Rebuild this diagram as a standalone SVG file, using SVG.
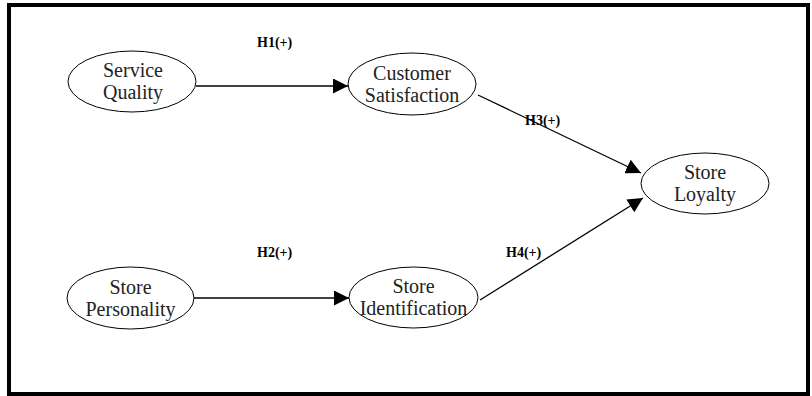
<svg xmlns="http://www.w3.org/2000/svg" width="812" height="396" viewBox="0 0 812 396">
<style>
.node ellipse{fill:#fff;stroke:#000;stroke-width:1}
.node text{font-family:'Liberation Serif','Times New Roman',serif;font-size:20px;fill:#222;text-anchor:middle}
.edge line{stroke:#000;stroke-width:1.3;fill:none}
.lbl{font-family:'Liberation Serif','Times New Roman',serif;font-size:14px;font-weight:bold;fill:#000}
</style>
<defs>
<marker id="ah" viewBox="0 0 10 10" refX="10" refY="5" markerWidth="15" markerHeight="15" markerUnits="userSpaceOnUse" orient="auto">
<path d="M0,0 L10,5 L0,10 Z" fill="#000"/>
</marker>
</defs>
<rect x="0" y="0" width="812" height="396" fill="#fff"/>
<rect x="9" y="5" width="799" height="389" fill="none" stroke="#000" stroke-width="4"/>
<g id="connectors" class="edge">
<line x1="196" y1="86" x2="348" y2="86" marker-end="url(#ah)"/>
<line x1="194" y1="298" x2="349" y2="298" marker-end="url(#ah)"/>
<line x1="478" y1="95" x2="641" y2="173" marker-end="url(#ah)"/>
<line x1="480" y1="300" x2="643" y2="198" marker-end="url(#ah)"/>
</g>
<g id="labels">
<text class="lbl" x="257" y="47">H1(+)</text>
<text class="lbl" x="257" y="257">H2(+)</text>
<text class="lbl" x="525" y="125">H3(+)</text>
<text class="lbl" x="506" y="257">H4(+)</text>
</g>
<g id="service-quality" class="node">
<ellipse cx="132" cy="81.5" rx="64" ry="30.5"/>
<text x="133" y="77">Service</text>
<text x="133" y="99">Quality</text>
</g>
<g id="customer-satisfaction" class="node">
<ellipse cx="412" cy="84" rx="64" ry="31"/>
<text x="412" y="79.5">Customer</text>
<text x="412" y="101.5">Satisfaction</text>
</g>
<g id="store-loyalty" class="node">
<ellipse cx="705" cy="183.5" rx="64" ry="30.5"/>
<text x="705" y="179">Store</text>
<text x="705" y="201">Loyalty</text>
</g>
<g id="store-personality" class="node">
<ellipse cx="130.5" cy="298" rx="63.5" ry="31"/>
<text x="130.5" y="293.5">Store</text>
<text x="130.5" y="315.5">Personality</text>
</g>
<g id="store-identification" class="node">
<ellipse cx="413.5" cy="297.5" rx="64.5" ry="30.5"/>
<text x="413.5" y="293">Store</text>
<text x="413.5" y="315">Identification</text>
</g>
</svg>
